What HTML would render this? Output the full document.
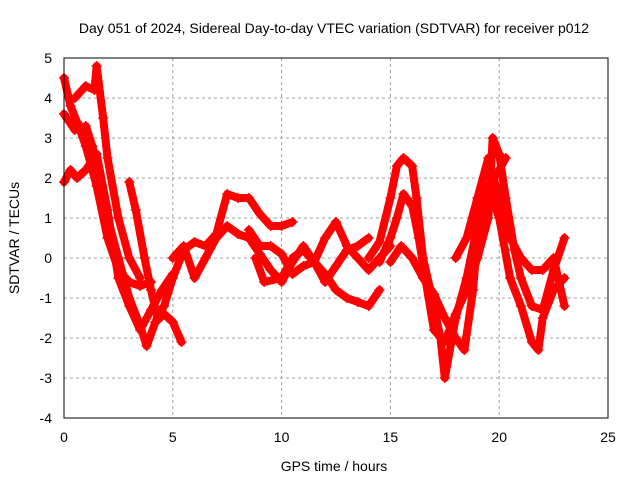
<!DOCTYPE html>
<html><head><meta charset="utf-8"><style>
body{margin:0;background:#fff}
svg{font-family:"Liberation Sans",sans-serif;font-size:14px}
</style></head><body>
<svg id="chart" width="640" height="480">
<text x="334" y="33" text-anchor="middle">Day 051 of 2024, Sidereal Day-to-day VTEC variation (SDTVAR) for receiver p012</text>
<text x="334" y="471" text-anchor="middle">GPS time / hours</text>
<text transform="translate(19,238) rotate(-90)" text-anchor="middle">SDTVAR / TECUs</text>
<g id="grid"></g><g id="series"></g><g id="axes"></g>
</svg>
<script>
const xTicks=[0,5,10,15,20,25];
const yTicks=[-4,-3,-2,-1,0,1,2,3,4,5];
const seriesX=[
[0,0.3,0.6,1,1.5,2,2.5,3,3.5,4],
[0,0.5,1,1.3,1.6,2,2.5,3,3.5,3.8,4.2,4.6,5,5.4],
[0,0.3,0.6,1,1.5,2,2.5,3,3.5,4,4.5,5],
[0.5,1,1.4,1.5,1.8,2,2.5,3,3.5],
[3,3.3,3.7,4,4.3,4.6,5,5.5,6,6.5,7,7.5,8,8.5,9,9.5,10,10.5],
[5,5.5,6,6.5,7,7.5,8,8.5,9,9.5,10,10.5,11,11.5,12,12.5,13,13.5,14],
[8.8,9.2,10,10.5,11,12,12.5,13,13.5,14,14.5],
[8.5,9,9.5,10,10.5,11,11.5,12,12.5,13,13.5,14,14.5,15],
[14,14.5,15,15.3,15.6,16,16.2,16.5,17,17.3,17.5,18,18.5,19,19.5,20,20.3],
[14.5,15,15.3,15.6,16,16.3,16.6,17,17.5,18,18.5,19,19.5,19.7,20,20.3,20.7,21,21.5,22,22.5,23],
[15,15.5,16,16.5,17,17.5,18,18.4,18.8,19,19.5,20,20.5,21,21.5,21.8,22,22.5,23],
[18,18.5,19,19.5,20,20.5,21,21.5,22,22.5,23]
];
const seriesY=[
[4.5,3.8,3.4,2.8,1.8,0.5,-0.3,-0.6,-0.7,-0.6],
[3.6,3.2,3.3,2.8,2.2,1,0,-1,-1.7,-2.2,-1.6,-1.4,-1.6,-2.1],
[1.9,2.2,2.0,2.2,2.6,1.2,-0.5,-1.2,-1.8,-1.3,-0.8,-0.4],
[4.0,4.3,4.2,4.8,3.5,2.5,1,0,-0.5],
[1.9,1.2,0,-0.8,-1.5,-1.2,-0.5,0.2,0.4,0.3,0.6,1.6,1.5,1.5,1.1,0.8,0.8,0.9],
[0,0.3,-0.5,0,0.5,0.8,0.6,0.5,0.1,-0.3,-0.6,-0.1,0.3,-0.1,-0.6,-0.2,0.2,0.3,0.5],
[0,-0.6,-0.5,0,0.2,-0.4,-0.8,-1,-1.1,-1.2,-0.8],
[0.7,0.3,0.3,0.1,-0.4,-0.2,-0.1,0.5,0.9,0.3,0,-0.3,0,0.3],
[0,0.4,1.5,2.3,2.5,2.3,1.5,0,-1.2,-2,-3,-1.5,-0.5,0.8,1.8,2.2,2.5],
[-0.1,0.5,1.0,1.6,1.3,0.5,-0.5,-1.8,-2.1,-1.4,-0.8,0,1,3.0,2.6,1.5,0.2,-0.5,-1.2,-1.3,-0.3,0.5],
[-0.1,0.3,0,-0.5,-0.9,-1.5,-2.0,-2.3,-0.8,0.5,1.8,1,-0.5,-1.2,-2.1,-2.3,-1.5,-0.8,-0.5],
[0,0.5,1.5,2.5,1.5,0.5,0,-0.3,-0.3,0,-1.2]
];
const L=64,R=608,T=58,B=418,xMin=0,xMax=25,yMin=-4,yMax=5;
const sx=v=>L+(v-xMin)/(xMax-xMin)*(R-L);
const sy=v=>B-(v-yMin)/(yMax-yMin)*(B-T);
const NS="http://www.w3.org/2000/svg";
function mk(tag,attrs,parent){const e=document.createElementNS(NS,tag);for(const k in attrs)e.setAttribute(k,attrs[k]);parent.appendChild(e);return e;}
const grid=document.getElementById('grid'),axes=document.getElementById('axes'),ser=document.getElementById('series');
xTicks.forEach(t=>{
 if(t>xMin&&t<xMax){const g=mk('line',{x1:sx(t),x2:sx(t),y1:T,y2:B,stroke:'#a0a0a0','stroke-dasharray':'3,3'},grid);
 
 }
 const tx=mk('text',{x:sx(t),y:B+24,'text-anchor':'middle'},axes);tx.textContent=t;
 
 
});
yTicks.forEach(t=>{
 if(t>yMin&&t<yMax){const g=mk('line',{x1:L,x2:R,y1:sy(t),y2:sy(t),stroke:'#a0a0a0','stroke-dasharray':'3,3'},grid);
 
 }
 const tx=mk('text',{x:L-12,y:sy(t)+5,'text-anchor':'end'},axes);tx.textContent=t;
 
 
});
const box=mk('rect',{x:L,y:T,width:R-L,height:B-T,fill:'none',stroke:'#000'},axes);


seriesX.forEach((xs,i)=>{
 const ys=seriesY[i];
 const pts=xs.map((x,j)=>sx(x)+','+sy(ys[j])).join(' ');
 const pl=mk('polyline',{points:pts,fill:'none',stroke:'#ff0000','stroke-width':8,'stroke-linejoin':'round','stroke-linecap':'round'},ser);
 
 
 xs.forEach((x,j)=>{
  const cx=sx(x),cy=sy(ys[j]);
  const p=mk('path',{d:`M${cx-5},${cy}H${cx+5}M${cx},${cy-5}V${cy+5}`,stroke:'#ff0000','stroke-width':1.5},ser);
  
  
 });
});
</script>
</body></html>
